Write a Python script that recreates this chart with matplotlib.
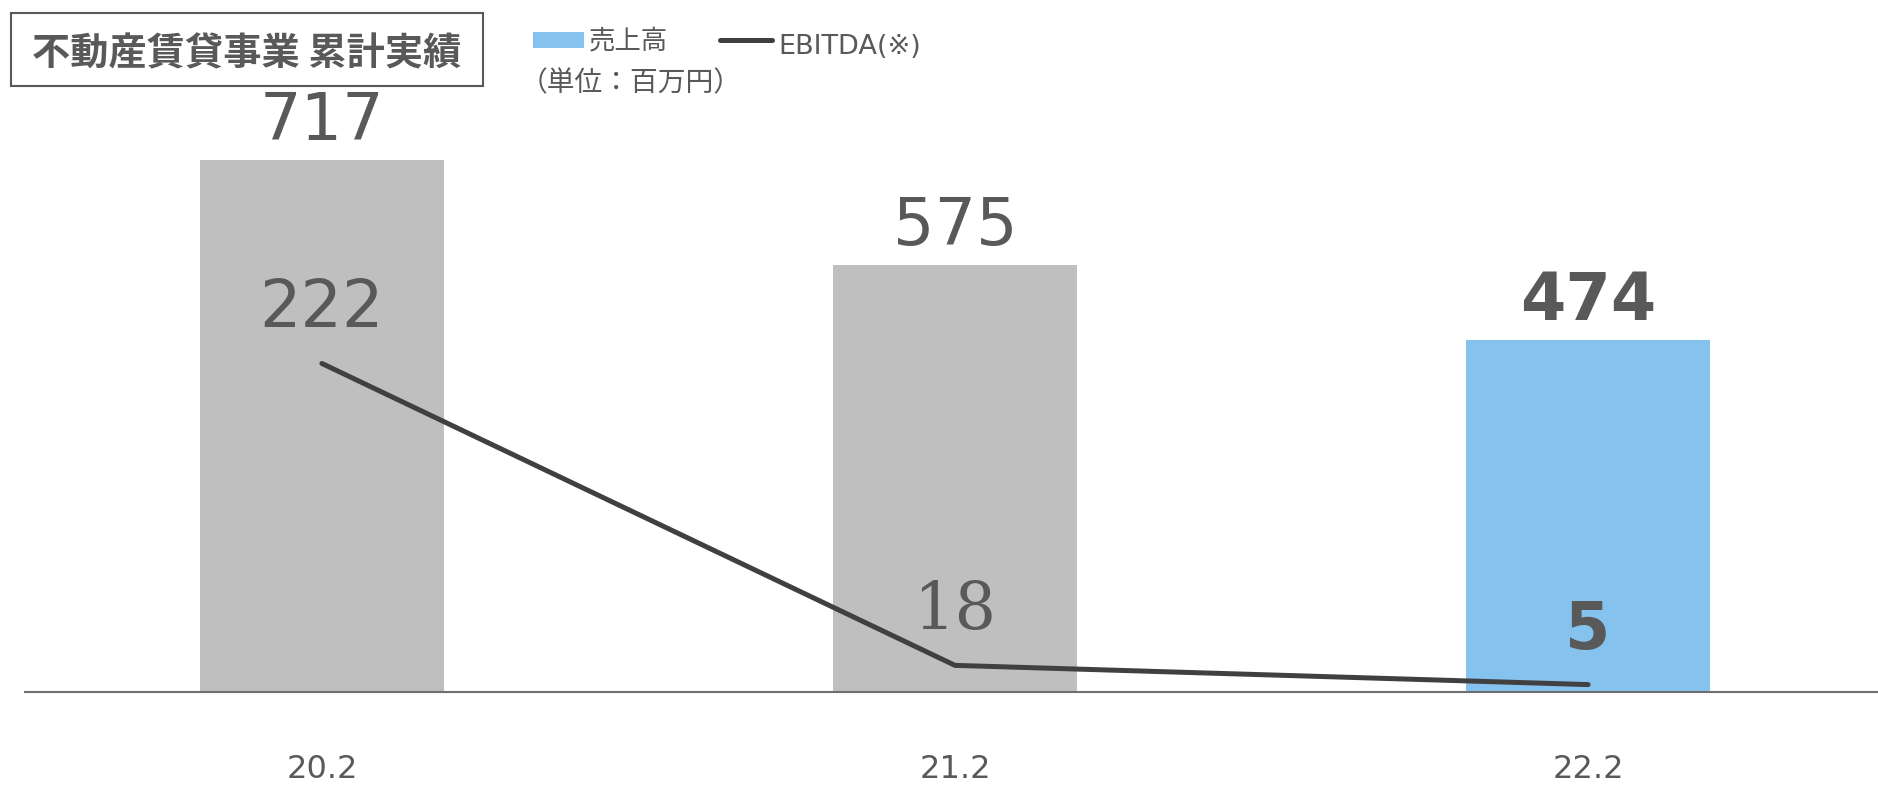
"""
Real-estate leasing business: cumulative sales and EBITDA by fiscal period.
"""

import matplotlib
matplotlib.use("Agg")
import matplotlib.pyplot as plt
from matplotlib.patches import Rectangle
from matplotlib.lines import Line2D
import numpy as np

# ── Data ──────────────────────────────────────────────────────────────────────
periods = ["20.2", "21.2", "22.2"]
sales = [717, 575, 474]          # 売上高 (百万円)
ebitda = [222, 18, 5]            # EBITDA (百万円)

# ── Style ─────────────────────────────────────────────────────────────────────
W, H = 1878, 787
GREY_BAR = "#BFBFBF"
BLUE_BAR = "#85C3EE"
LINE_COL = "#404040"
TEXT_COL = "#595959"
AXIS_COL = "#6E6E6E"

bar_colors = [GREY_BAR, GREY_BAR, BLUE_BAR]
label_weights = ["normal", "normal", "bold"]
ebitda_fonts = ["DejaVu Sans", "DejaVu Serif", "DejaVu Sans"]

plt.rcParams["font.family"] = ["DejaVu Sans", "Noto Sans CJK JP"]
CJK = ["Noto Sans CJK JP", "DejaVu Sans"]


def fig_xy(x, y):
    """pixel position (from top-left) -> figure fraction"""
    return x / W, 1 - y / H


fig = plt.figure(figsize=(W / 100, H / 100), dpi=100)
ax = fig.add_axes([25 / W, (H - 692) / H, 1 - 25 / W, 692 / H])
ax2 = ax.twinx()

x = np.arange(len(periods))
ax.bar(x, sales, width=0.385, color=bar_colors, zorder=2)
ax2.plot(x, ebitda, color=LINE_COL, linewidth=3.6,
         solid_capstyle="round", solid_joinstyle="miter", zorder=3)

ax.set_xlim(-0.469, 2.458)
ax.set_ylim(0, 932)
ax2.set_ylim(0, 467.6)

# value labels
for i, v in enumerate(sales):
    ax.annotate(f"{v}", (x[i], v), xytext=(0, 20), textcoords="offset pixels",
                ha="center", va="baseline", fontsize=47, color=TEXT_COL,
                fontweight=label_weights[i])
for i, v in enumerate(ebitda):
    ax2.annotate(f"{v}", (x[i], v), xytext=(0, 36), textcoords="offset pixels",
                 ha="center", va="baseline", fontsize=47, color=TEXT_COL,
                 fontweight=label_weights[i], family=ebitda_fonts[i])

ax.set_xticks(x)
ax.set_xticklabels(periods, fontsize=23, color=TEXT_COL)
ax.tick_params(axis="x", length=0, pad=45)
ax.set_yticks([])
ax2.set_yticks([])
for a in (ax, ax2):
    for s in ("top", "right", "left", "bottom"):
        a.spines[s].set_visible(False)
ax.spines["bottom"].set_visible(True)
ax.spines["bottom"].set_color(AXIS_COL)
ax.spines["bottom"].set_linewidth(1.5)
ax.patch.set_visible(False)

# title box
x0, y0 = fig_xy(11, 86)
fig.add_artist(Rectangle((x0, y0), 472 / W, 73 / H, transform=fig.transFigure,
                         facecolor="white", edgecolor=TEXT_COL, linewidth=1.5))
fig.text(*fig_xy(247, 65), "不動産賃貸事業 累計実績", ha="center", va="baseline",
         fontsize=27.5, fontweight="bold", color=TEXT_COL, family=CJK)

# legend
lx, ly = fig_xy(533, 48)
fig.add_artist(Rectangle((lx, ly), 51 / W, 16 / H, transform=fig.transFigure,
                         facecolor=BLUE_BAR, edgecolor="none"))
fig.text(*fig_xy(589, 48), "売上高", ha="left", va="baseline",
         fontsize=19, color=TEXT_COL, family=CJK)
l0 = fig_xy(720, 40)
l1 = fig_xy(772, 40)
fig.add_artist(Line2D([l0[0], l1[0]], [l0[1], l1[1]], transform=fig.transFigure,
                      color=LINE_COL, linewidth=3.6, solid_capstyle="round"))
fig.text(*fig_xy(778, 54), "EBITDA(※)", ha="left", va="baseline",
         fontsize=19.5, color=TEXT_COL)
fig.text(*fig_xy(520, 91), "（単位：百万円）", ha="left", va="baseline",
         fontsize=20, color=TEXT_COL, family=CJK)

fig.savefig("out.png", dpi=100, facecolor="white")
